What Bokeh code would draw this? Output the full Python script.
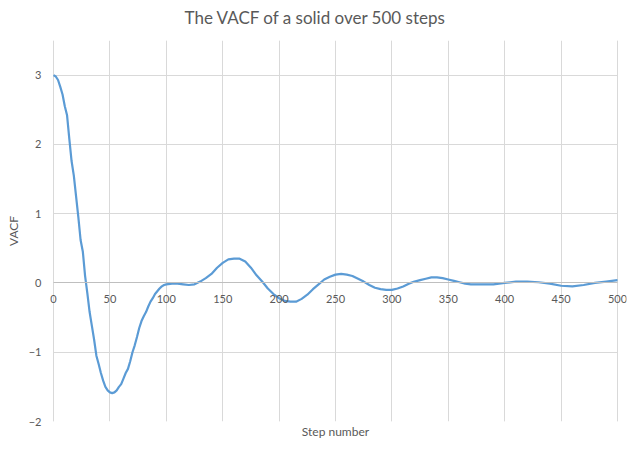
from bokeh.plotting import figure
from bokeh.models import Range1d, FixedTicker, LinearAxis, Grid, Title
from bokeh.embed import file_html
from bokeh.resources import INLINE

title_text = "The VACF of a solid over 500 steps"
x_label = "Step number"
y_label = "VACF"

steps = [0, 2, 4, 6, 8, 10, 12, 14, 16, 18, 20, 22, 24, 26, 28, 30, 32, 34, 36, 38,
         40, 42, 44, 46, 48, 50, 52, 54, 56, 58, 60, 62, 64, 66, 68, 70, 72, 74, 76, 78,
         80, 82, 84, 86, 88, 90, 92, 94, 96, 98, 100, 105, 110, 115, 120, 125, 130, 135,
         140, 145, 150, 155, 160, 165, 170, 175, 180, 185, 190, 195, 200, 205, 210, 215,
         220, 225, 230, 235, 240, 245, 250, 255, 260, 265, 270, 275, 280, 285, 290, 295,
         300, 305, 310, 315, 320, 325, 330, 335, 340, 345, 350, 355, 360, 365, 370, 380,
         390, 400, 410, 420, 430, 440, 450, 460, 470, 480, 490, 500]
vacf = [3.0, 2.98, 2.93, 2.83, 2.72, 2.55, 2.42, 2.08, 1.76, 1.55, 1.25, 0.95, 0.62, 0.45,
        0.10, -0.15, -0.42, -0.62, -0.82, -1.05, -1.17, -1.30, -1.41, -1.50, -1.55, -1.58,
        -1.59, -1.58, -1.55, -1.50, -1.46, -1.38, -1.30, -1.24, -1.13, -1.00, -0.90, -0.78,
        -0.65, -0.55, -0.48, -0.42, -0.34, -0.27, -0.22, -0.16, -0.12, -0.08, -0.05, -0.03,
        -0.02, -0.01, -0.01, -0.02, -0.03, -0.02, 0.02, 0.07, 0.13, 0.22, 0.29, 0.34, 0.35,
        0.35, 0.31, 0.22, 0.11, 0.02, -0.08, -0.16, -0.22, -0.26, -0.27, -0.27, -0.23, -0.17,
        -0.09, -0.02, 0.05, 0.09, 0.12, 0.13, 0.12, 0.10, 0.06, 0.02, -0.03, -0.07, -0.09,
        -0.10, -0.10, -0.08, -0.05, -0.01, 0.02, 0.04, 0.06, 0.08, 0.08, 0.07, 0.05, 0.03,
        0.01, -0.01, -0.02, -0.02, -0.02, 0.0, 0.02, 0.02, 0.01, -0.01, -0.04, -0.05, -0.03,
        0.0, 0.02, 0.04]

x_ticks = [0, 50, 100, 150, 200, 250, 300, 350, 400, 450, 500]
x_tick_labels = ["0", "50", "100", "150", "200", "250", "300", "350", "400", "450", "500"]
y_ticks = [-2, -1, 0, 1, 2, 3]

FONT = "Lato"
TXT = "#595959"
GRID = "#d9d9d9"

# a little room is left on both sides of the data range so that the
# end tick labels on the zero line are not cut by the frame
p = figure(width=634, height=450,
           min_border_left=44, min_border_right=8, min_border_top=40, min_border_bottom=29,
           x_range=Range1d(-8, 508), y_range=Range1d(-2, 3.5),
           x_axis_location=None,
           output_backend="svg", toolbar_location=None)
p.outline_line_color = None
p.background_fill_color = "white"
p.border_fill_color = "white"

# invisible spacer between the frame and the title
p.add_layout(Title(text=" ", text_font_size="1px", standoff=7), "above")

p.title.text = title_text
p.title.align = "left"
p.title.offset = 140
p.title.text_font = FONT
p.title.text_font_size = "17px"
p.title.text_font_style = "normal"
p.title.text_color = TXT
p.title.standoff = 6

p.add_layout(Grid(dimension=0, ticker=FixedTicker(ticks=x_ticks),
                  grid_line_color=GRID, grid_line_width=1))
p.ygrid.ticker = FixedTicker(ticks=y_ticks)
p.ygrid.grid_line_color = GRID
p.ygrid.cross_bounds = (0, 500)

ax = p.yaxis[0]
ax.ticker = FixedTicker(ticks=y_ticks)
ax.axis_line_color = None
ax.major_tick_line_color = None
ax.minor_tick_line_color = None
ax.major_tick_out = 0
ax.major_tick_in = 0
ax.minor_tick_out = 0
ax.major_label_text_font = FONT
ax.major_label_text_font_size = "11px"
ax.major_label_text_color = TXT
ax.major_label_standoff = 3
ax.axis_label = y_label
ax.axis_label_text_font = FONT
ax.axis_label_text_font_size = "12px"
ax.axis_label_text_font_style = "normal"
ax.axis_label_text_color = TXT
ax.axis_label_standoff = 5

# x axis drawn on the zero line
zax = LinearAxis(fixed_location=0, ticker=FixedTicker(ticks=x_ticks), bounds=(0, 500),
                 major_label_overrides={t: s for t, s in zip(x_ticks, x_tick_labels)})
zax.axis_line_color = "#bfbfbf"
zax.major_tick_line_color = None
zax.minor_tick_line_color = None
zax.major_tick_out = 0
zax.major_tick_in = 0
zax.minor_tick_out = 0
zax.major_label_standoff = 12
zax.major_label_text_font = FONT
zax.major_label_text_font_size = "11px"
zax.major_label_text_color = TXT
p.add_layout(zax, "below")

# axis that only carries the x title
lax = LinearAxis(ticker=FixedTicker(ticks=[]), axis_label=x_label)
lax.axis_line_color = None
lax.major_tick_line_color = None
lax.minor_tick_line_color = None
lax.major_tick_out = 0
lax.major_tick_in = 0
lax.minor_tick_out = 0
lax.major_label_standoff = 0
lax.axis_label_standoff = 2
lax.axis_label_text_font = FONT
lax.axis_label_text_font_size = "12px"
lax.axis_label_text_font_style = "normal"
lax.axis_label_text_color = TXT
p.add_layout(lax, "below")

p.line(steps, vacf, line_color="#5b9bd5", line_width=2.2)

open("out.html", "w").write(file_html(p, INLINE))
